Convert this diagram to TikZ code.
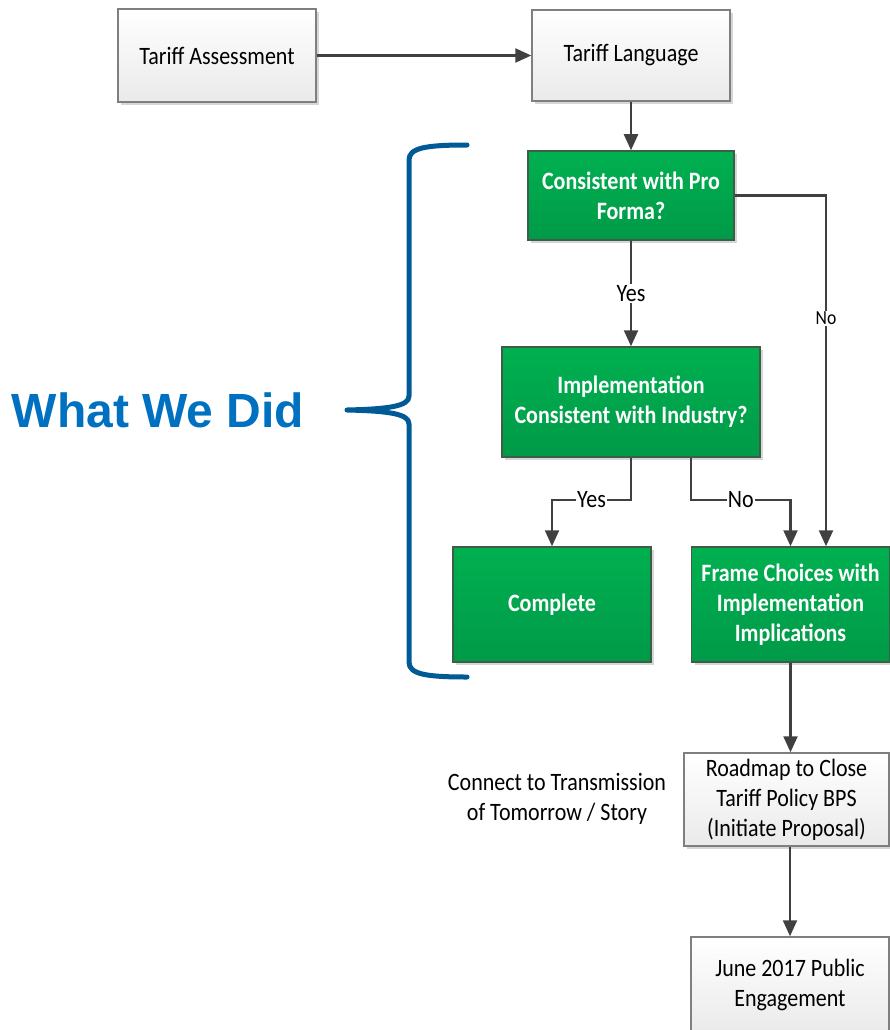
\documentclass[tikz,border=0pt]{standalone}
\usepackage{fontspec}
\setmainfont{Carlito}[FakeStretch=0.88]
\newfontfamily\headfont{Liberation Sans}
\usetikzlibrary{arrows.meta,shadows,calc}
\definecolor{linegray}{HTML}{404040}
\definecolor{greentop}{HTML}{00B050}
\definecolor{greenbot}{HTML}{009A48}
\definecolor{greenedge}{HTML}{3D5E46}
\definecolor{boxedge}{HTML}{7F7F7F}
\definecolor{boxbot}{HTML}{EAEAEA}
\definecolor{bracecol}{HTML}{005A96}
\definecolor{headcol}{HTML}{0070C0}
\tikzset{
  basebox/.style={rectangle, line width=1.5pt, align=center, inner sep=4pt,
    font=\fontsize{25}{30}\selectfont,
    drop shadow={shadow xshift=3pt, shadow yshift=-3pt, fill=black!16, opacity=1}},
  whitebox/.style={basebox, draw=boxedge, top color=white, bottom color=boxbot, text=black},
  greenbox/.style={basebox, draw=greenedge, top color=greentop, bottom color=greenbot,
    text=white, font=\fontsize{25}{30}\selectfont\bfseries},
  conn/.style={draw=linegray, line width=2.3pt,
    -{Triangle[length=16pt,width=14pt]}},
  lbl/.style={fill=white, inner sep=1pt, font=\fontsize{25}{30}\selectfont},
  smalllbl/.style={fill=white, inner sep=1pt, font=\fontsize{20}{24}\selectfont},
}
\begin{document}
\begin{tikzpicture}[x=1pt,y=-1pt]
\useasboundingbox (0,0) rectangle (890,1030);
\clip (0,0) rectangle (890,1030);

% process boxes
\node[whitebox, minimum width=198, minimum height=93] (ta) at (217,55.5) {Tariff Assessment};
\node[whitebox, minimum width=198, minimum height=91] (tl) at (631,55.5) {Tariff Language};
\node[greenbox, minimum width=206, minimum height=89] (cp) at (631,195.5) {Consistent with Pro\\Forma?};
\node[greenbox, minimum width=258, minimum height=110] (ic) at (631,402) {Implementation\\Consistent with Industry?};
\node[greenbox, minimum width=198, minimum height=115] (co) at (552,604.5) {Complete};
\node[greenbox, minimum width=198, minimum height=115] (fc) at (790.5,604.5) {Frame Choices with\\Implementation\\Implications};
\node[whitebox, minimum width=205, minimum height=93] (rm) at (786.5,799.5) {Roadmap to Close\\Tariff Policy BPS\\(Initiate Proposal)};
\node[whitebox, minimum width=198, minimum height=96] (jn) at (790,985) {June 2017 Public\\Engagement};

% free text
\node[align=center, font=\fontsize{25}{30}\selectfont] (ct) at (557,799) {Connect to Transmission\\of Tomorrow / Story};
\node[anchor=base, text=headcol, font=\headfont\fontsize{48}{55}\selectfont\bfseries] (wd) at (158,427) {What We Did};

% connectors
\draw[conn] (ta.east) -- (ta.east -| tl.west);
\draw[conn] (tl) -- (cp);
\draw[conn] (cp) -- node[lbl]{Yes} (ic);
\draw[conn] (cp.east) -| node[smalllbl, pos=0.675]{No} ($(fc.north)+(35.5,0)$);
\draw[conn] (ic.south) -- ++(0,42) -| node[lbl, pos=0.25]{Yes} (co.north);
\draw[conn] ($(ic.south)+(60,0)$) -- ++(0,42) -| node[lbl, pos=0.25]{No} (fc.north);
\draw[conn] (fc.south) -- (fc.south |- rm.north);
\draw[conn] (rm.south -| jn.north) -- (jn.north);

% curly brace
\draw[bracecol, line width=5pt, line cap=round, line join=round]
  (467,145) .. controls (425,145) and (409,148) .. (409,160)
  -- (409,396) .. controls (409,406) and (390,409) .. (347,410)
  .. controls (390,411) and (409,414) .. (409,424)
  -- (409,662) .. controls (409,674) and (425,677) .. (467,677);
\end{tikzpicture}
\end{document}
